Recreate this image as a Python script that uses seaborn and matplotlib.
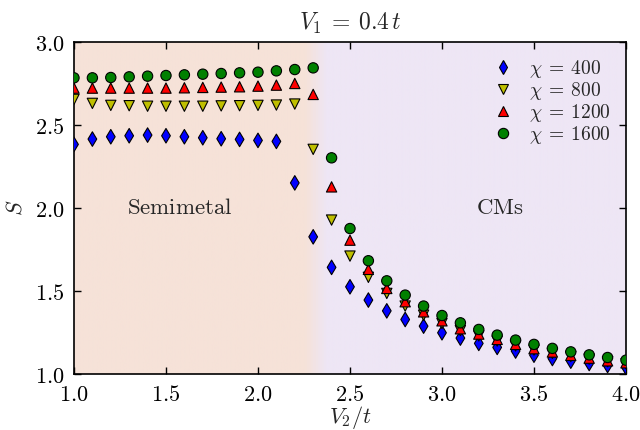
import numpy as np
import pandas as pd
import matplotlib
matplotlib.use("Agg")
import matplotlib.pyplot as plt
from matplotlib.colors import LinearSegmentedColormap
from matplotlib.ticker import FuncFormatter, MultipleLocator
import seaborn as sns

# V2/t grid
v2 = [1.0, 1.1, 1.2, 1.3, 1.4, 1.5, 1.6, 1.7, 1.8, 1.9, 2.0,
      2.1, 2.2, 2.3, 2.4, 2.5, 2.6, 2.7, 2.8, 2.9, 3.0,
      3.1, 3.2, 3.3, 3.4, 3.5, 3.6, 3.7, 3.8, 3.9, 4.0]

# entanglement entropy for each bond dimension
s_400 = [2.384, 2.416, 2.430, 2.436, 2.440, 2.436, 2.430, 2.424, 2.418, 2.414, 2.408,
         2.402, 2.152, 1.827, 1.643, 1.526, 1.446, 1.381, 1.329, 1.289, 1.249,
         1.217, 1.185, 1.161, 1.139, 1.114, 1.094, 1.078, 1.064, 1.052, 1.040]
s_800 = [2.655, 2.631, 2.619, 2.617, 2.614, 2.614, 2.614, 2.614, 2.616, 2.617, 2.619,
         2.621, 2.627, 2.354, 1.928, 1.711, 1.583, 1.486, 1.410, 1.355, 1.305,
         1.262, 1.230, 1.199, 1.170, 1.145, 1.125, 1.106, 1.090, 1.075, 1.062]
s_1200 = [2.723, 2.723, 2.723, 2.723, 2.723, 2.723, 2.725, 2.727, 2.729, 2.731, 2.735,
          2.741, 2.751, 2.685, 2.128, 1.807, 1.631, 1.516, 1.436, 1.375, 1.321,
          1.273, 1.241, 1.209, 1.179, 1.153, 1.133, 1.113, 1.096, 1.080, 1.068]
s_1600 = [2.785, 2.785, 2.787, 2.791, 2.795, 2.799, 2.803, 2.807, 2.811, 2.815, 2.819,
          2.827, 2.835, 2.845, 2.303, 1.877, 1.683, 1.562, 1.476, 1.410, 1.353,
          1.309, 1.269, 1.235, 1.205, 1.179, 1.155, 1.134, 1.116, 1.100, 1.084]

chi_labels = [r"$\chi\:=\:400$", r"$\chi\:=\:800$", r"$\chi\:=\:1200$", r"$\chi\:=\:1600$"]
chi_colors = ["#0000ff", "#bfbf00", "#ff0000", "#008000"]
chi_markers = ["d", "v", "^", "o"]

sns.set_style("ticks")
plt.rcParams.update({
    "mathtext.fontset": "cm",
    "font.family": ["DejaVu Serif"],
    "xtick.direction": "in",
    "ytick.direction": "in",
    "xtick.top": True,
    "ytick.right": True,
    "axes.edgecolor": "black",
    "axes.linewidth": 1.2,
})

df = pd.DataFrame({
    "V2": v2 * 4,
    "S": s_400 + s_800 + s_1200 + s_1600,
    "chi": np.repeat(chi_labels, len(v2)),
})

fig = plt.figure(figsize=(6.4, 4.3), dpi=100)
ax = fig.add_axes([0.1156, 0.130, 0.8625, 0.772])

# phase background: semimetal (peach) -> CMs (lavender)
peach, lav = "#f6e2d8", "#eee6f5"
bg = LinearSegmentedColormap.from_list(
    "bg", [(0, peach), (0.418, peach), (0.458, lav), (1, lav)])
ax.imshow(np.linspace(0, 1, 600)[None, :], cmap=bg, extent=[1, 4, 1, 3],
          aspect="auto", zorder=0)

sns.scatterplot(data=df, x="V2", y="S", hue="chi", style="chi",
                palette=dict(zip(chi_labels, chi_colors)),
                markers=dict(zip(chi_labels, chi_markers)),
                s=55, edgecolor="black", linewidth=0.8, ax=ax, zorder=3)

ax.set_xlim(1, 4)
ax.set_ylim(1, 3)
ax.xaxis.set_major_locator(MultipleLocator(0.5))
ax.yaxis.set_major_locator(MultipleLocator(0.5))
fmt = FuncFormatter(lambda v, p: f"${v:.1f}$")
ax.xaxis.set_major_formatter(fmt)
ax.yaxis.set_major_formatter(fmt)
ax.tick_params(which="major", length=5, width=1, labelsize=16, pad=7, colors="black")

ax.set_xlabel(r"$V_2/t$", fontsize=16, labelpad=-1)
ax.set_ylabel(r"$S$", fontsize=16, labelpad=6)
ax.set_title(r"$V_1\:=\:0.4\,t$", fontsize=17, pad=9)

ax.text(1.575, 2.0, r"$\mathrm{Semimetal}$", ha="center", va="center", fontsize=16.5)
ax.text(3.315, 2.0, r"$\mathrm{CMs}$", ha="center", va="center", fontsize=16.5)

handles, labels = ax.get_legend_handles_labels()
ax.legend(handles, labels, loc="upper right", frameon=False, fontsize=14,
          labelspacing=0.0, handletextpad=0.3, borderaxespad=0.4)

fig.savefig("out.png", dpi=100)
